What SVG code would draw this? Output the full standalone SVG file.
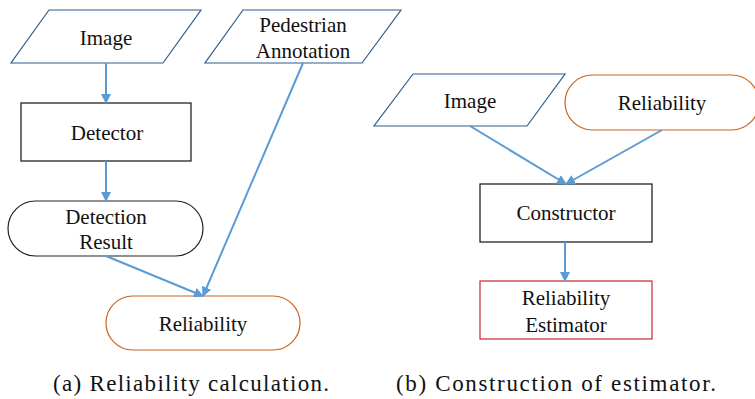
<svg xmlns="http://www.w3.org/2000/svg" width="755" height="399" viewBox="0 0 755 399" font-family="Liberation Serif, DejaVu Serif, serif">
<style>
text{font-size:21px;fill:#111;text-anchor:middle}
.cap{font-size:23px}
.para{fill:#fff;stroke:#2f5d8c;stroke-width:1.2}
.box{fill:#fff;stroke:#111;stroke-width:1.2}
.term{fill:#fff;stroke:#222;stroke-width:1.2}
.rel{fill:#fff;stroke:#c8641e;stroke-width:1.2}
.est{fill:#fff;stroke:#c8282d;stroke-width:1.2}
.conn line{stroke:#5b9bd5;stroke-width:2;marker-end:url(#ah)}
</style>
<defs>
<marker id="ah" viewBox="0 0 10 10" refX="9" refY="5" markerWidth="5" markerHeight="5" orient="auto" markerUnits="strokeWidth">
<path d="M0,0 L10,5 L0,10 z" fill="#5b9bd5"/>
</marker>
</defs>
<g id="image-a"><polygon class="para" points="49,10 201,10 163,63 11,63"/><text x="106" y="45">Image</text></g>
<g id="pedestrian-annotation"><polygon class="para" points="243,10 401,10 362,63 205,63"/><text x="303" y="32">Pedestrian</text><text x="303" y="58">Annotation</text></g>
<g id="detector"><rect class="box" x="21" y="103" width="170" height="58"/><text x="107" y="140">Detector</text></g>
<g id="detection-result"><rect class="term" x="8" y="201" width="195" height="55" rx="27.5"/><text x="106" y="224">Detection</text><text x="106" y="249">Result</text></g>
<g id="reliability-a"><rect class="rel" x="106" y="296" width="194" height="54" rx="27"/><text x="203" y="331">Reliability</text></g>
<g id="image-b"><polygon class="para" points="413,74 565,74 527,126 374,126"/><text x="470" y="108">Image</text></g>
<g id="reliability-b"><rect class="rel" x="565" y="75" width="194" height="55" rx="27.5"/><text x="662" y="110">Reliability</text></g>
<g id="constructor"><rect class="box" x="480" y="184" width="172" height="58"/><text x="566" y="220">Constructor</text></g>
<g id="reliability-estimator"><rect class="est" x="480" y="281" width="172" height="58"/><text x="566" y="305">Reliability</text><text x="566" y="332">Estimator</text></g>
<g class="conn" id="connectors">
<line x1="106" y1="63" x2="106" y2="103"/>
<line x1="106" y1="161" x2="106" y2="201"/>
<line x1="106" y1="256" x2="203" y2="296"/>
<line x1="303" y1="63" x2="203" y2="296"/>
<line x1="470" y1="126" x2="566" y2="184"/>
<line x1="662" y1="130" x2="566" y2="184"/>
<line x1="565" y1="242" x2="565" y2="281"/>
</g>
<text class="cap" x="191" y="391" textLength="276" lengthAdjust="spacing">(a) Reliability calculation.</text>
<text class="cap" x="556" y="391" textLength="320" lengthAdjust="spacing">(b) Construction of estimator.</text>
</svg>
